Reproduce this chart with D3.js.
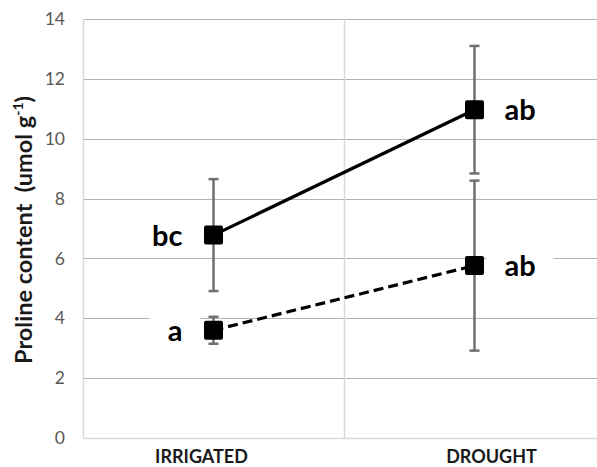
<!DOCTYPE html>
<html><head><meta charset="utf-8">
<script src="https://cdn.jsdelivr.net/npm/d3@7"></script>
<style>body{margin:0;background:#fff}svg{display:block}</style>
</head><body>
<svg id="c" width="597" height="467"></svg>
<script>
const categories = ["IRRIGATED", "DROUGHT"];
const yTicks = [0, 2, 4, 6, 8, 10, 12, 14];
const solidValues = [6.78, 10.97];
const solidErrors = [1.87, 2.13];
const solidLabels = ["bc", "ab"];
const dashedValues = [3.6, 5.76];
const dashedErrors = [0.45, 2.84];
const dashedLabels = ["a", "ab"];
const yTitle = "Proline content  (umol g";

const svg = d3.select("#c");
const FONT = "Lato, 'Open Sans', sans-serif";
const y = d3.scaleLinear().domain([0, 14]).range([438, 19]);
const x = d3.scaleBand().domain(categories).range([83, 605]).paddingInner(0).paddingOuter(0);
const cx = c => x(c) + x.bandwidth() / 2;

// gridlines
svg.append("g").selectAll("line").data(yTicks.filter(t => t > 0)).join("line")
  .attr("x1", 83).attr("x2", 605)
  .attr("y1", d => Math.round(y(d)) + 0.5).attr("y2", d => Math.round(y(d)) + 0.5)
  .attr("stroke", "#b3b3b3").attr("stroke-width", 1);
// vertical category lines
svg.append("g").selectAll("line").data(categories).join("line")
  .attr("x1", d => Math.round(x(d)) + 0.5).attr("x2", d => Math.round(x(d)) + 0.5)
  .attr("y1", y(14)).attr("y2", y(0))
  .attr("stroke", "#d9d9d9").attr("stroke-width", 1.5);
// x axis line
svg.append("line").attr("x1", 83).attr("x2", 605)
  .attr("y1", Math.round(y(0)) + 0.5).attr("y2", Math.round(y(0)) + 0.5)
  .attr("stroke", "#d9d9d9").attr("stroke-width", 1.5);

// y tick labels
svg.append("g").selectAll("text").data(yTicks).join("text")
  .attr("x", 65).attr("y", d => y(d)).attr("dy", "0.35em")
  .attr("text-anchor", "end").attr("font-family", FONT).attr("font-size", 17.5)
  .attr("fill", "#595959").text(d => d);

// category labels
const catDx = [-12, 17];
svg.append("g").selectAll("text").data(categories).join("text")
  .attr("x", (d, i) => cx(d) + catDx[i]).attr("y", 463)
  .attr("text-anchor", "middle").attr("font-family", FONT).attr("font-size", 18)
  .attr("font-weight", "bold").attr("fill", "#1a1a1a").text(d => d);

// y title
const yt = svg.append("text").attr("transform", `translate(32,230) rotate(-90)`)
  .attr("text-anchor", "middle").attr("font-family", FONT).attr("font-size", 23.5)
  .attr("font-weight", "bold").attr("fill", "#1a1a1a")
  .style("white-space", "pre");
yt.append("tspan").text(yTitle);
yt.append("tspan").attr("font-size", 14).attr("dy", -9).text("-1");
yt.append("tspan").attr("dy", 9).text(")");

const series = [
  {values: solidValues, errors: solidErrors, labels: solidLabels, dash: null},
  {values: dashedValues, errors: dashedErrors, labels: dashedLabels, dash: "10,5"}
];

// data labels with white boxes
const lblG = svg.append("g");
series.forEach(s => {
  categories.forEach((c, i) => {
    const left = i === 0;
    const t = lblG.append("text")
      .attr("x", left ? cx(c) - 31 : cx(c) + 30)
      .attr("y", y(s.values[i])).attr("dy", "0.36em")
      .attr("text-anchor", left ? "end" : "start")
      .attr("font-family", FONT).attr("font-size", 29).attr("font-weight", "bold")
      .attr("fill", "#000").text(s.labels[i]);
    const b = t.node().getBBox();
    lblG.insert("rect", "text").attr("x", b.x - 18).attr("y", b.y - 2)
      .attr("width", b.width + 36).attr("height", b.height + 4).attr("fill", "#fff");
  });
});

// lines
const line = d3.line().x((d, i) => cx(categories[i])).y(d => y(d));
series.forEach(s => {
  svg.append("path").datum(s.values).attr("d", line).attr("fill", "none")
    .attr("stroke", "#000").attr("stroke-width", 3.2)
    .attr("stroke-dasharray", s.dash);
});

// error bars
series.forEach(s => {
  const g = svg.append("g").attr("stroke", "#707070").attr("stroke-width", 2.5);
  categories.forEach((c, i) => {
    const hi = y(s.values[i] + s.errors[i]), lo = y(s.values[i] - s.errors[i]);
    g.append("line").attr("x1", cx(c)).attr("x2", cx(c)).attr("y1", hi).attr("y2", lo);
    g.append("line").attr("x1", cx(c) - 5).attr("x2", cx(c) + 5).attr("y1", hi).attr("y2", hi);
    g.append("line").attr("x1", cx(c) - 5).attr("x2", cx(c) + 5).attr("y1", lo).attr("y2", lo);
  });
});

// markers
series.forEach(s => {
  svg.append("g").selectAll("rect").data(s.values).join("rect")
    .attr("x", (d, i) => cx(categories[i]) - 9.5).attr("y", d => y(d) - 9.5)
    .attr("width", 19).attr("height", 19).attr("rx", 2)
    .attr("fill", "#000");
});
</script>
</body></html>
